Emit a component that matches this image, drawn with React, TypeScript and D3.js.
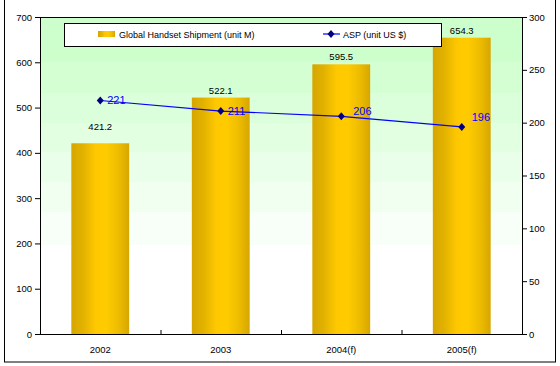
import React from "react";
import * as d3 from "d3";

const categories = ["2002", "2003", "2004(f)", "2005(f)"];
const shipments = [421.2, 522.1, 595.5, 654.3];
const asp = [221, 211, 206, 196];
const leftTicks = [0, 100, 200, 300, 400, 500, 600, 700];
const rightTicks = [0, 50, 100, 150, 200, 250, 300];

const W = 560, H = 366;
const plot = { l: 40, t: 17, r: 522, b: 334 };
const font = "'Liberation Sans', Arial, sans-serif";

// label layout tweaks (pixel offsets)
const aspLabelDx = [7, 7, 12, 10];
const aspLabelDy = [0, 0, -5, -10];
const barLabelDy = [-13, -4, -4, -4];

export default function App() {
  const x = d3.scaleBand().domain(categories).range([plot.l, plot.r]).paddingInner(0.52).paddingOuter(0.26);
  const xc = d3.scalePoint().domain(categories).range([plot.l, plot.r]).padding(0.5);
  const yL = d3.scaleLinear().domain([0, 700]).range([plot.b, plot.t]);
  const yR = d3.scaleLinear().domain([0, 300]).range([plot.b, plot.t]);

  const bandEdges = [17, 62, 93, 123, 152, 182, 212, 245];
  const bandColor = d3.interpolateRgb("#CCFFCC", "#FFFFFF");
  const bands = bandEdges.map((y0, i) => {
    const y1 = i < bandEdges.length - 1 ? bandEdges[i + 1] : plot.b;
    const c = i < bandEdges.length - 1 ? bandColor(i / (bandEdges.length - 1)) : "#FFFFFF";
    return { y0, y1, c };
  });

  const line = d3.line<number>().x((_, i) => xc(categories[i])!).y((d) => yR(d));
  const step = (plot.r - plot.l) / categories.length;

  return (
    <svg width={W} height={H} style={{ position: "absolute", left: 0, top: 0 }} fontFamily={font}>
      <defs>
        <linearGradient id="barG" x1="0" x2="1" y1="0" y2="0">
          <stop offset="0" stopColor="#D6A600" />
          <stop offset="0.2" stopColor="#E2B200" />
          <stop offset="0.42" stopColor="#FFC800" />
          <stop offset="0.6" stopColor="#FFCC00" />
          <stop offset="0.82" stopColor="#EDBC00" />
          <stop offset="1" stopColor="#D6A600" />
        </linearGradient>
      </defs>
      <rect x={0} y={0} width={W} height={H} fill="#fff" />
      <rect x={4.5} y={-5} width={551} height={367} fill="none" stroke="#000" strokeWidth={1} />
      {bands.map((b, i) => (
        <rect key={i} x={plot.l} y={b.y0} width={plot.r - plot.l} height={b.y1 - b.y0} fill={b.c} />
      ))}
      <rect x={plot.l + 0.5} y={plot.t + 0.5} width={plot.r - plot.l} height={plot.b - plot.t} fill="none" stroke="#000" strokeWidth={1} />

      {/* bars */}
      {shipments.map((v, i) => (
        <rect key={i} x={x(categories[i])} y={yL(v)} width={x.bandwidth()} height={plot.b - yL(v)} fill="url(#barG)" />
      ))}
      {shipments.map((v, i) => (
        <text key={i} x={xc(categories[i])} y={yL(v) + barLabelDy[i]} textAnchor="middle" fontSize={9.5} fill="#000">
          {v.toFixed(1)}
        </text>
      ))}

      {/* left axis */}
      {leftTicks.map((t) => (
        <g key={t}>
          <line x1={35} x2={plot.l} y1={yL(t) + 0.5} y2={yL(t) + 0.5} stroke="#000" />
          <text x={32} y={yL(t) + 3.5} textAnchor="end" fontSize={9.5}>{t}</text>
        </g>
      ))}
      {/* right axis */}
      {rightTicks.map((t) => (
        <g key={t}>
          <line x1={plot.r} x2={plot.r + 5} y1={yR(t) + 0.5} y2={yR(t) + 0.5} stroke="#000" />
          <text x={529} y={yR(t) + 3.5} textAnchor="start" fontSize={9.5}>{t}</text>
        </g>
      ))}
      {/* x axis ticks */}
      {categories.slice(1).map((_, i) => (
        <line key={i} x1={plot.l + step * (i + 1) + 0.5} x2={plot.l + step * (i + 1) + 0.5} y1={plot.b} y2={plot.b - 4} stroke="#000" />
      ))}
      {categories.map((c) => (
        <text key={c} x={xc(c)} y={353} textAnchor="middle" fontSize={9.5}>{c}</text>
      ))}

      {/* ASP line */}
      <path d={line(asp)!} fill="none" stroke="#0000FF" strokeWidth={1.2} />
      {asp.map((v, i) => {
        const cx = xc(categories[i])!, cy = yR(v);
        return <path key={i} d={`M${cx},${cy - 4}L${cx + 3.5},${cy}L${cx},${cy + 4}L${cx - 3.5},${cy}Z`} fill="#000080" />;
      })}
      {asp.map((v, i) => (
        <text key={i} x={xc(categories[i])! + aspLabelDx[i]} y={yR(v) + aspLabelDy[i] + 4} fontSize={11} fill="#0000FF">
          {v}
        </text>
      ))}

      {/* legend */}
      <rect x={64.5} y={23.5} width={377} height={23} fill="#fff" stroke="#000" strokeWidth={1} />
      <rect x={98} y={31} width={17} height={6} fill="url(#barG)" />
      <text x={119} y={37.5} fontSize={9}>Global Handset Shipment (unit M)</text>
      <line x1={323} x2={340} y1={34} y2={34} stroke="#0000FF" strokeWidth={1.2} />
      <path d="M331,30L334.5,34L331,38L327.5,34Z" fill="#000080" />
      <text x={343} y={37.5} fontSize={9}>ASP (unit US $)</text>
    </svg>
  );
}
